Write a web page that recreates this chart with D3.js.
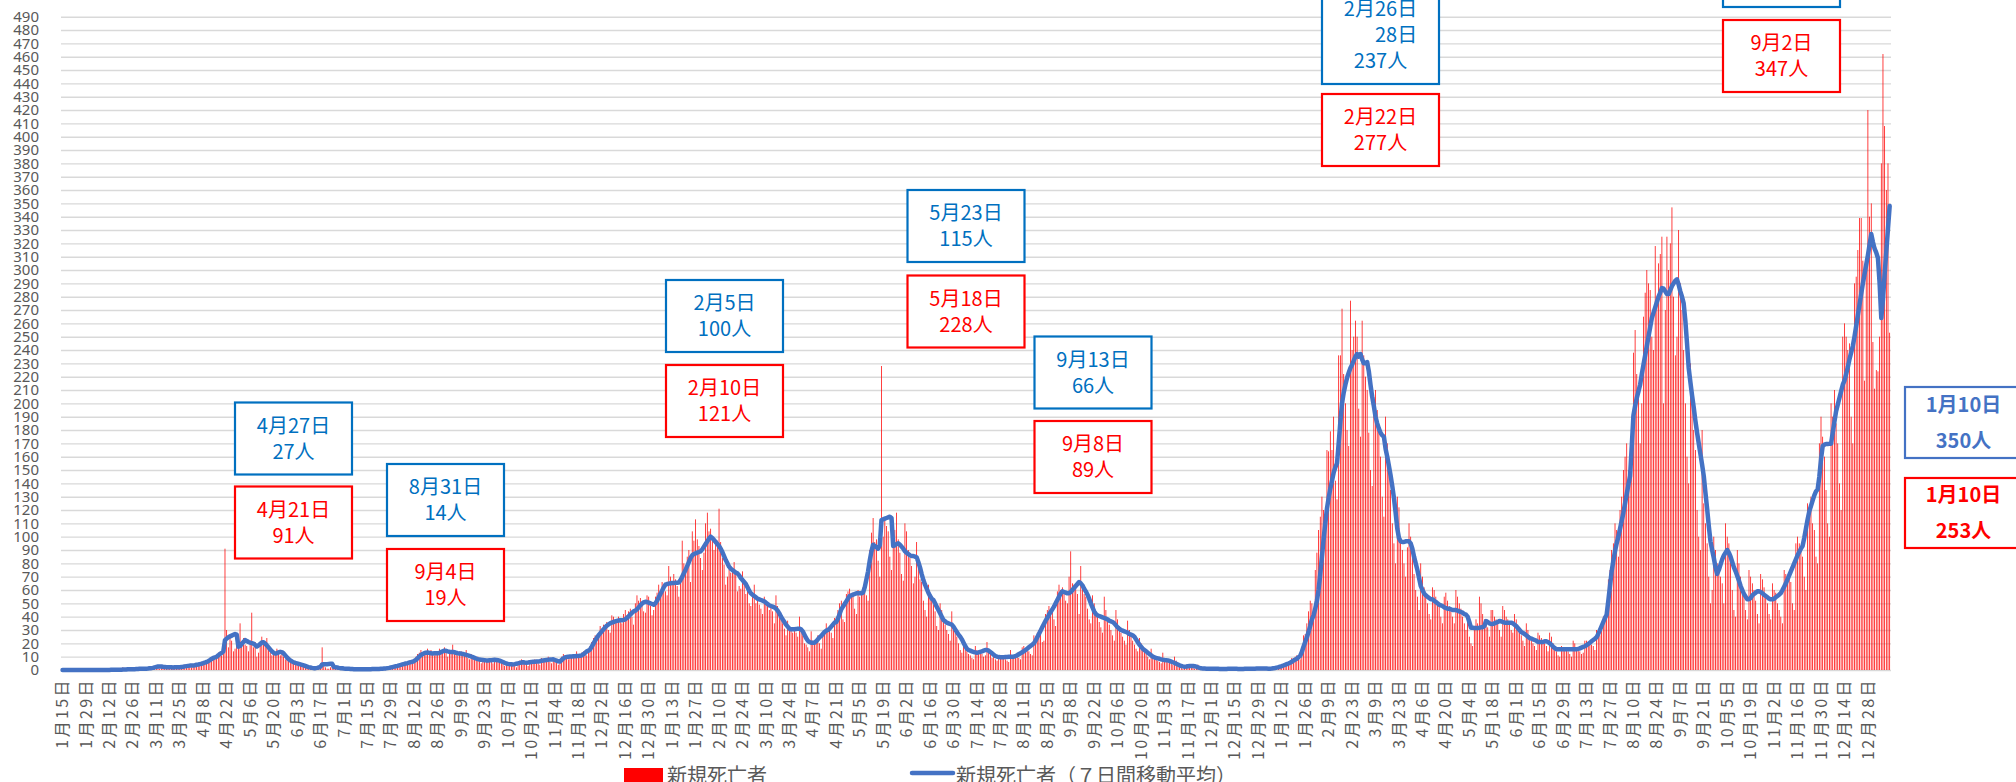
<!DOCTYPE html>
<meta charset="utf-8">
<style>
body { margin: 0; background: #fff; }
svg { display: block; font-family: "Noto Sans CJK JP", sans-serif; }
.grid line { stroke: #D9D9D9; stroke-width: 1.4px; }
.grid path, .yaxis path, .xaxis path { display: none; }
</style>
<svg width="2016" height="782"></svg>
<script src="https://d3js.org/d3.v7.min.js"></script>
<script>

// x tick labels, one every 14 days from 2020-01-15
var tickLabels = [
  "1月15日","1月29日","2月12日","2月26日","3月11日","3月25日","4月8日","4月22日","5月6日","5月20日",
  "6月3日","6月17日","7月1日","7月15日","7月29日","8月12日","8月26日","9月9日","9月23日","10月7日",
  "10月21日","11月4日","11月18日","12月2日","12月16日","12月30日",
  "1月13日","1月27日","2月10日","2月24日","3月10日","3月24日","4月7日","4月21日","5月5日","5月19日",
  "6月2日","6月16日","6月30日","7月14日","7月28日","8月11日","8月25日","9月8日","9月22日","10月6日",
  "10月20日","11月3日","11月17日","12月1日","12月15日","12月29日",
  "1月12日","1月26日","2月9日","2月23日","3月9日","3月23日","4月6日","4月20日","5月4日","5月18日",
  "6月1日","6月15日","6月29日","7月13日","7月27日","8月10日","8月24日","9月7日","9月21日","10月5日",
  "10月19日","11月2日","11月16日","11月30日","12月14日","12月28日"
];

// daily new deaths, one row per 14 days (row starts at the tick label above)
var dailyDeaths = [
  [0,0,0,0,0,0,0,0,0,0,0,0,0,0],
  [0,0,0,0,0,0,0,0,0,0,0,0,0,0],
  [0,1,0,0,0,0,0,0,2,0,0,1,0,0],
  [1,1,1,1,0,1,2,1,1,0,1,1,2,3],
  [3,3,1,2,1,2,2,3,2,1,2,3,2,2],
  [3,3,2,4,3,3,4,2,4,5,4,4,5,6],
  [6,5,7,8,6,8,10,8,11,13,12,11,14,91],
  [30,17,26,22,14,16,20,26,35,20,24,19,18,14],
  [22,43,17,21,10,13,18,25,20,18,24,17,13,11],
  [14,12,16,12,11,14,10,8,9,7,6,5,6,4],
  [5,4,5,3,3,2,4,2,3,1,1,1,1,2],
  [5,17,3,2,1,1,2,3,4,2,1,0,2,1],
  [1,1,0,1,1,0,1,0,0,1,0,0,1,1],
  [1,0,0,1,1,1,0,1,1,1,2,1,2,2],
  [2,3,2,3,3,4,4,5,4,5,6,4,6,7],
  [8,10,12,13,15,11,14,13,16,12,15,12,11,13],
  [14,16,15,13,17,14,10,15,12,19,13,12,11,14],
  [14,13,11,15,9,8,12,10,9,8,10,7,5,9],
  [8,7,6,8,9,5,9,8,7,6,7,5,3,5],
  [5,4,4,5,3,2,6,7,8,5,6,4,3,7],
  [7,6,8,7,5,4,9,8,7,9,10,6,5,8],
  [6,7,4,5,10,12,11,9,8,10,11,12,9,14],
  [12,11,13,14,13,11,15,18,21,24,26,23,27,33],
  [31,34,32,36,30,28,41,40,38,37,40,38,35,42],
  [45,41,44,46,40,34,50,56,52,54,50,44,43,56],
  [55,48,41,45,55,58,64,60,66,63,59,56,78,70],
  [66,72,68,63,55,70,97,80,78,85,90,66,104,97],
  [113,98,93,84,75,88,110,118,104,106,100,90,95,97],
  [121,96,84,79,64,70,78,73,75,81,75,59,63,61],
  [74,66,57,60,50,48,58,64,50,52,49,46,42,55],
  [52,49,45,47,44,35,56,48,40,38,35,31,26,37],
  [33,30,28,30,28,25,40,31,26,20,19,17,14,29],
  [22,20,23,26,20,16,25,30,35,29,32,28,24,39],
  [40,45,50,52,38,36,57,59,61,55,58,46,42,60],
  [55,58,62,65,56,52,90,103,114,96,98,82,70,228],
  [100,113,108,104,85,75,112,105,118,98,88,72,67,110],
  [104,90,84,78,65,70,96,80,68,66,52,45,40,64],
  [58,52,49,44,33,30,50,45,36,34,30,27,22,44],
  [32,28,25,20,15,13,22,17,14,12,11,9,8,18],
  [15,14,13,12,10,11,21,16,12,9,10,8,7,11],
  [10,9,11,8,7,6,15,11,10,12,13,9,8,17],
  [18,15,16,14,12,11,26,25,28,30,27,21,22,42],
  [45,48,42,44,38,33,59,64,60,62,58,52,50,70],
  [89,65,64,61,57,42,78,63,57,55,46,38,35,56],
  [50,44,40,36,32,28,55,45,38,34,30,26,22,45],
  [38,33,28,25,22,19,37,30,26,22,19,16,14,24],
  [20,17,14,12,10,8,16,12,10,8,7,6,5,13],
  [9,8,7,6,5,4,10,7,5,3,2,1,1,4],
  [4,3,3,2,1,2,4,1,1,1,0,1,0,2],
  [1,1,1,0,1,0,1,1,1,0,1,1,0,1],
  [1,1,0,1,1,0,2,1,1,0,1,1,1,2],
  [1,1,2,1,1,0,2,1,1,2,1,3,2,3],
  [3,4,5,6,5,4,9,9,10,11,11,8,16,26],
  [27,35,44,52,50,45,75,88,105,115,130,120,100,165],
  [164,179,165,190,142,128,236,236,271,222,200,180,168,277],
  [240,250,262,250,196,175,262,236,220,210,178,150,138,205],
  [210,195,180,160,130,115,190,170,150,135,110,95,80,130],
  [122,100,90,80,70,92,110,100,85,72,60,55,45,80],
  [70,62,56,50,42,38,62,60,55,52,48,40,35,55],
  [58,52,48,44,40,35,60,55,50,46,40,35,30,42],
  [25,20,18,30,38,35,55,50,42,38,36,32,25,45],
  [45,40,38,35,30,25,48,45,40,38,35,30,28,42],
  [38,32,30,26,22,18,35,30,26,22,20,18,15,28],
  [26,24,22,20,18,14,28,25,20,17,14,11,10,18],
  [17,16,15,14,12,10,22,20,17,15,14,12,13,22],
  [22,21,20,19,18,15,30,28,26,32,40,38,42,68],
  [75,90,95,110,105,85,120,130,150,160,170,150,140,190],
  [238,255,222,210,170,200,265,283,300,290,285,250,240,318],
  [280,305,312,325,200,270,325,300,320,347,280,236,250,330],
  [290,270,240,200,160,140,230,210,180,165,120,100,90,180],
  [125,110,95,70,50,60,100,90,80,75,70,65,50,110],
  [100,95,85,60,45,40,90,80,70,60,55,45,38,75],
  [70,65,60,52,42,35,72,68,62,55,50,42,38,65],
  [60,58,50,45,40,35,75,72,70,68,66,50,45,95],
  [100,95,90,85,70,60,125,120,130,110,105,85,80,170],
  [190,175,160,135,110,100,200,190,210,185,170,140,120,250],
  [260,250,240,245,190,170,290,295,315,339,339,307,217,298],
  [420,340,350,246,211,225,224,250,380,462,408,360,380,253]
];

// 7-day moving average as drawn on the chart, same row layout
var movingAvg = [
  [0,0,0,0,0,0,0,0,0,0,0,0,0,0],
  [0,0,0,0,0,0,0,0,0,0,0,0,0,0],
  [0,0.1,0.1,0.1,0.1,0.1,0.1,0.1,0.4,0.4,0.4,0.6,0.6,0.6],
  [0.6,0.6,0.7,0.7,0.9,0.9,0.9,1.0,1.0,1.1,1.3,1.4,1.6,2.0],
  [2.3,2.6,2.7,2.6,2.4,2.3,2.1,2.0,2.1,2.0,1.9,2.0,2.1,2.0],
  [2.1,2.3,2.4,2.7,2.9,3.1,3.3,3.3,3.4,3.6,3.9,4.1,4.4,4.7],
  [5.1,5.6,6.0,6.6,7.4,8.3,9.0,9.4,10.0,11.0,12.1,12.9,13.9,22.4],
  [23.5,24.6,25.2,25.8,26.4,27.0,26.5,17.5,18.0,19.6,21.0,22.4,21.8,21.0],
  [20.5,20.2,19.8,18.8,17.6,18.4,19.5,20.6,20.9,19.8,18.5,17.0,15.5,14.0],
  [13.0,12.4,12.6,13.2,13.6,13.4,12.5,11.0,9.5,8.2,7.2,6.4,5.8,5.3],
  [5.0,4.6,4.2,3.8,3.4,3.0,2.6,2.2,1.9,1.6,1.4,1.4,1.6,1.9],
  [2.5,4.1,4.3,4.4,4.4,4.5,4.6,4.6,2.4,2.0,1.9,1.6,1.4,1.3],
  [1.1,1.0,0.9,0.9,0.8,0.7,0.6,0.6,0.6,0.5,0.5,0.5,0.6,0.6],
  [0.6,0.6,0.6,0.7,0.7,0.7,0.8,0.8,0.9,1.0,1.1,1.2,1.4,1.6],
  [1.9,2.2,2.5,2.8,3.1,3.5,3.8,4.2,4.5,4.9,5.2,5.6,5.9,6.2],
  [6.8,7.6,8.8,10.2,11.2,12.0,12.6,13.0,13.1,12.8,12.5,12.4,12.5,12.6],
  [12.6,12.8,13.4,14.0,14.5,14.4,14.0,13.7,13.5,13.6,13.3,12.9,12.6,12.4],
  [12.3,12.0,11.7,11.4,11.0,10.6,10.1,9.6,9.1,8.6,8.2,7.9,7.6,7.5],
  [7.4,7.2,7.1,7.3,7.4,7.5,7.6,7.5,7.3,7.0,6.5,6.0,5.4,4.9],
  [4.6,4.4,4.3,4.2,4.4,4.7,5.0,5.3,5.6,5.8,5.6,5.5,5.6,5.8],
  [6.0,6.1,6.2,6.3,6.4,6.6,6.9,7.1,7.3,7.5,7.7,7.8,7.9,8.0],
  [7.5,7.0,6.5,6.3,7.5,8.6,9.5,9.8,10.0,10.1,10.2,10.3,10.4,10.5],
  [10.5,10.6,11.0,11.8,12.8,14.0,14.5,15.4,17.5,19.8,22.0,24.0,26.0,27.5],
  [29.0,30.5,32.0,33.2,34.2,35.0,35.6,36.0,36.4,36.8,37.1,37.3,37.4,37.5],
  [38.0,39.0,40.2,41.5,42.8,44.0,44.5,45.5,47.0,48.5,49.8,50.7,51.2,51.0],
  [50.5,50.0,49.5,49.0,50.0,52.0,54.5,57.0,59.5,62.0,64.0,64.5,64.8,65.0],
  [65.2,65.3,65.4,65.5,65.6,67.5,70.0,72.5,75.0,78.0,81.0,84.0,86.0,87.0],
  [87.5,88.0,88.5,89.0,90.5,92.5,94.5,96.5,98.5,100.0,99.0,97.5,96.0,94.5],
  [93.0,91.0,88.5,85.5,82.5,80.0,77.5,76.0,75.0,74.0,73.0,72.5,71.0,69.0],
  [67.5,66.0,64.5,62.0,59.5,57.5,56.5,55.5,54.5,53.5,53.0,52.5,52.0,51.5],
  [50.5,49.5,48.5,48.0,47.5,47.0,46.0,44.5,42.5,40.0,38.0,36.0,34.0,32.5],
  [31.0,30.5,30.5,30.5,30.7,31.0,31.0,30.5,29.0,26.5,24.0,22.0,21.0,20.5],
  [20.5,20.5,21.5,23.0,24.5,25.5,27.0,28.5,29.5,30.0,31.0,32.5,34.0,35.5],
  [36.0,38.5,42.0,45.5,47.5,49.5,51.5,53.5,55.5,56.0,56.5,57.0,57.5,57.5],
  [57.5,57.5,58.0,62.0,68.0,74.0,82.0,89.0,94.0,93.0,92.0,91.0,93.5,112.5],
  [113.0,113.5,114.0,114.5,115.0,114.0,93.0,93.5,94.5,95.0,94.0,92.5,91.0,89.0],
  [88.0,87.0,86.0,85.5,85.5,85.0,84.5,81.0,77.0,72.0,67.5,64.0,61.0,58.0],
  [55.5,53.5,52.5,50.0,47.5,45.0,42.5,40.0,37.5,36.5,35.5,35.0,34.5,34.0],
  [32.5,30.5,28.5,26.5,25.0,23.0,20.5,18.0,16.0,15.0,14.5,14.0,13.5,13.2],
  [13.0,13.2,13.6,14.0,14.5,15.0,15.0,14.5,13.5,12.5,11.5,10.5,10.0,9.7],
  [9.5,9.5,9.6,9.7,9.8,9.9,10.0,10.0,10.0,10.5,11.0,11.8,12.5,13.3],
  [14.0,15.0,16.0,17.0,18.0,19.0,20.0,22.0,24.5,27.0,29.5,32.0,34.5,37.0],
  [39.0,41.5,43.5,45.5,47.5,50.0,52.5,55.0,57.5,59.0,58.5,58.0,57.5,57.5],
  [58.5,60.0,61.5,63.0,64.5,66.0,65.0,63.5,61.0,59.0,56.5,53.5,50.0,47.0],
  [44.0,42.0,41.0,40.5,40.0,39.5,39.0,38.5,38.0,37.0,36.5,36.0,35.0,33.5],
  [32.0,31.0,30.0,29.5,29.0,28.5,28.0,27.0,26.5,26.0,25.0,23.0,21.0,19.0],
  [17.5,16.0,15.0,14.0,13.0,12.0,11.0,10.0,9.5,9.0,8.7,8.4,8.0,7.7],
  [7.5,7.4,7.2,6.8,6.3,5.8,5.3,4.7,4.1,3.5,3.0,2.7,2.5,2.6],
  [2.8,3.0,3.0,3.0,2.8,2.5,2.0,1.6,1.3,1.2,1.1,1.0,1.0,1.0],
  [1.0,1.0,0.9,0.9,0.9,0.8,0.8,0.8,0.8,0.8,0.9,0.9,0.9,0.9],
  [0.9,0.9,0.8,0.8,0.8,0.8,0.9,0.9,0.9,0.9,1.0,1.0,1.0,1.1],
  [1.1,1.1,1.2,1.2,1.2,1.1,1.0,1.0,1.1,1.3,1.5,1.8,2.1,2.5],
  [2.9,3.4,3.9,4.4,4.9,5.5,6.2,7.0,7.8,8.5,9.5,10.6,13.5,17.5],
  [21.0,24.5,28.5,33.0,38.0,41.0,46.0,52.0,60.0,72.0,85.0,98.0,110.0,121.0],
  [129,136,142,148,152,155,170,186,200,208,214,219,223,226.5],
  [229,232,235,237,235,237,233,230,230,231,224,214,205,198],
  [190,185,181,178,176,175,166,160,153,146,138,129,118,106],
  [99,96.5,96,96,96.5,96.5,96.5,95,91,85,80,75,69,63],
  [60,57.5,56,55,54,53,53,52,51,50,49,48.5,48,47],
  [46.5,46,46,45.5,45,45,45,44.5,44,43.5,43,42,41.5,40],
  [36,31.7,31.7,31.5,31.5,31.5,31.7,32,32,33,36.7,36,35,34.5],
  [34.5,35,35.5,36,36.7,36.5,36,35.5,35.5,35.5,35.5,35.5,35,34],
  [33,31.5,30,28.5,27.8,27,26,25,24,23.6,23,22.5,22,21],
  [21,21,21,21.5,21.5,21,20,19,17.5,16.5,15.5,15.5,15.5,15.5],
  [15.5,15.5,15.5,15.5,15.5,15.5,15.5,15.5,15.5,15.8,16.2,16.8,17.3,17.8],
  [18.5,19.5,20.5,21.5,22.5,23.5,24.6,27,30,33,36,39,41.5,52],
  [63,74,82,89,95,100,106,112,118,125,132,139,145.5,168],
  [191,198,204,209,214,222,229,236,243,250,257,264,268,272],
  [276,280,283,286.5,286,284,282,282,285,288,290,292,293,289],
  [284,280,275,262,245,226.5,216,206,197,187,178,170,162,154],
  [145.5,133,121,108,96.5,90,84,77,72,75,79,83,86,88],
  [90,88,85,81,77,74,70.6,67,63,60,57,55,53,53],
  [54,56,57,58,59,59,58.5,57.5,56.5,55.5,54.5,53.5,53,53],
  [53.5,54.5,55.5,56.5,57.7,60,62.5,65,68,71,74,77,80,83],
  [86,88.5,91,93,99,106,113,119,123,127,131,134,135.5,145],
  [158,168,169,169.5,169.5,169.6,169.7,178,186,194,199,204,209,214],
  [217,222,227,233,238,243,250,258,266,274,282,290,297,304],
  [311,319,327,321,316,313,309,290,264,278,297,314,331,348]
];

var yTicks = d3.range(0, 500, 10);

// boxed call-outs (layout in pixels, text as on the chart)
var callouts = [
  {x: 235,  y: 402.5, h: 72, color: "#0070C0", lines: ["4月27日", "27人"]},
  {x: 235,  y: 486.5, h: 72, color: "#FF0000", lines: ["4月21日", "91人"]},
  {x: 387,  y: 464,   h: 72, color: "#0070C0", lines: ["8月31日", "14人"]},
  {x: 387,  y: 549,   h: 72, color: "#FF0000", lines: ["9月4日", "19人"]},
  {x: 666,  y: 280,   h: 72, color: "#0070C0", lines: ["2月5日", "100人"]},
  {x: 666,  y: 365,   h: 72, color: "#FF0000", lines: ["2月10日", "121人"]},
  {x: 907.5,y: 190,   h: 72, color: "#0070C0", lines: ["5月23日", "115人"]},
  {x: 907.5,y: 275.5, h: 72, color: "#FF0000", lines: ["5月18日", "228人"]},
  {x: 1034.5,y: 336.5,h: 72, color: "#0070C0", lines: ["9月13日", "66人"]},
  {x: 1034.5,y: 421,  h: 72, color: "#FF0000", lines: ["9月8日", "89人"]},
  {x: 1322, y: -14,   h: 98, color: "#0070C0", lines: ["2月26日", "28日", "237人"]},
  {x: 1322, y: 94,    h: 72, color: "#FF0000", lines: ["2月22日", "277人"]},
  {x: 1723, y: -65,   h: 72, color: "#0070C0", lines: []},
  {x: 1723, y: 20,    h: 72, color: "#FF0000", lines: ["9月2日", "347人"]},
  {x: 1905, y: 387,   h: 71, color: "#4472C4", lines: ["1月10日", "350人"], wide: true},
  {x: 1905, y: 478,   h: 70, color: "#FF0000", lines: ["1月10日", "253人"], wide: true}
];

var deaths = dailyDeaths.flat();
var avg = movingAvg.flat();
var days = d3.range(deaths.length);

var svg = d3.select("svg");

var x = d3.scaleBand().domain(days).range([61.7, 1890.5]).padding(0);
var y = d3.scaleLinear().domain([0, 490]).range([670, 16.7]);

// gridlines
svg.append("g")
  .attr("class", "grid")
  .attr("transform", "translate(61,0)")
  .call(d3.axisLeft(y).tickValues(yTicks).tickSize(-1830).tickFormat(""));

// y labels
var yAxis = svg.append("g")
  .attr("class", "yaxis")
  .attr("transform", "translate(44,0)")
  .call(d3.axisLeft(y).tickValues(yTicks).tickSize(0).tickPadding(5));
yAxis.selectAll("text")
  .attr("font-family", "'Noto Sans', sans-serif")
  .attr("font-size", 15)
  .attr("fill", "#595959");

// bars: thin red strokes, which blend to pink where they are dense
var bw = 0.75;
svg.append("g")
  .selectAll("rect")
  .data(deaths)
  .join("rect")
  .attr("x", function(d, i) { return x(i) + (x.bandwidth() - bw) / 2; })
  .attr("y", function(d) { return y(d); })
  .attr("width", bw)
  .attr("height", function(d) { return y(0) - y(d); })
  .attr("fill", "#FF0000");

// moving average line
var line = d3.line()
  .x(function(d, i) { return x(i) + x.bandwidth() / 2; })
  .y(function(d) { return y(d); });

svg.append("path")
  .datum(avg)
  .attr("d", line)
  .attr("fill", "none")
  .attr("stroke", "#4472C4")
  .attr("stroke-width", 4.5)
  .attr("stroke-linejoin", "round")
  .attr("stroke-linecap", "round");

// x labels, vertical
var xAxis = svg.append("g")
  .attr("class", "xaxis")
  .attr("transform", "translate(0,670)")
  .call(d3.axisBottom(x)
    .tickValues(d3.range(0, deaths.length, 14))
    .tickSize(0)
    .tickFormat(function(d) { return tickLabels[d / 14]; }));
xAxis.selectAll("text")
  .attr("font-family", "'Noto Sans CJK JP', sans-serif")
  .attr("font-size", 16)
  .attr("letter-spacing", 2.4)
  .attr("fill", "#595959")
  .attr("transform", "rotate(-90)")
  .attr("x", -8)
  .attr("y", 0)
  .attr("dy", "0.35em")
  .style("text-anchor", "end");

// call-out boxes
var boxW = 117;
var boxes = svg.append("g")
  .selectAll("g")
  .data(callouts)
  .join("g")
  .attr("transform", function(d) { return "translate(" + d.x + "," + d.y + ")"; });

boxes.append("rect")
  .attr("width", boxW)
  .attr("height", function(d) { return d.h; })
  .attr("fill", "#fff")
  .attr("stroke", function(d) { return d.color; })
  .attr("stroke-width", 2.2);

boxes.each(function(d) {
  var g = d3.select(this);
  var step = d.wide ? 36 : 26;
  var top = d.h / 2 - step * (d.lines.length - 1) / 2;
  var firstRight = null;
  d.lines.forEach(function(s, k) {
    var t = g.append("text")
      .attr("x", boxW / 2)
      .attr("y", top + k * step)
      .attr("dy", "0.36em")
      .attr("text-anchor", "middle")
      .attr("font-size", 20)
      .attr("font-weight", d.wide ? 700 : 400)
      .attr("fill", d.color)
      .text(s);
    if (k === 0) firstRight = boxW / 2 + t.node().getComputedTextLength() / 2;
    // "28日" sits under the day part of "2月26日"
    if (d.lines.length === 3 && k === 1) t.attr("x", firstRight).attr("text-anchor", "end");
  });
});

// legend
var legend = svg.append("g").attr("fill", "#595959").attr("font-size", 20);
legend.append("rect").attr("x", 624).attr("y", 768).attr("width", 39).attr("height", 14).attr("fill", "#FF0000");
legend.append("text").attr("x", 667).attr("y", 783).text("新規死亡者");
legend.append("line").attr("x1", 912).attr("x2", 953).attr("y1", 773).attr("y2", 773)
  .attr("stroke", "#4472C4").attr("stroke-width", 4.5).attr("stroke-linecap", "round");
legend.append("text").attr("x", 956).attr("y", 783).text("新規死亡者（７日間移動平均）");

</script>
